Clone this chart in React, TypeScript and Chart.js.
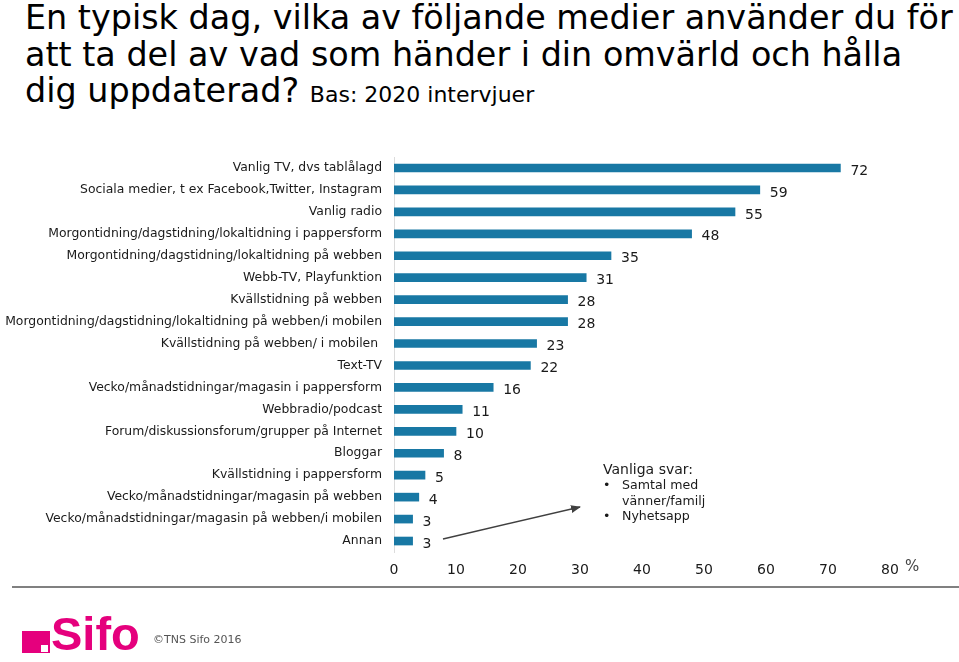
import React, { useEffect, useRef } from 'react';
import { Chart, registerables } from 'chart.js';

Chart.register(...registerables);

const categories = [
  'Vanlig TV, dvs tablålagd',
  'Sociala medier, t ex Facebook,Twitter, Instagram',
  'Vanlig radio',
  'Morgontidning/dagstidning/lokaltidning i pappersform',
  'Morgontidning/dagstidning/lokaltidning på webben',
  'Webb-TV, Playfunktion',
  'Kvällstidning på webben',
  'Morgontidning/dagstidning/lokaltidning på webben/i mobilen',
  'Kvällstidning på webben/ i mobilen ',
  'Text-TV',
  'Vecko/månadstidningar/magasin i pappersform',
  'Webbradio/podcast',
  'Forum/diskussionsforum/grupper på Internet',
  'Bloggar',
  'Kvällstidning i pappersform',
  'Vecko/månadstidningar/magasin på webben',
  'Vecko/månadstidningar/magasin på webben/i mobilen',
  'Annan',
];
const values = [72, 59, 55, 48, 35, 31, 28, 28, 23, 22, 16, 11, 10, 8, 5, 4, 3, 3];
const xTickValues = [0, 10, 20, 30, 40, 50, 60, 70, 80];
const noteTitle = 'Vanliga svar:';
const noteItems = ['Samtal med', 'vänner/familj', 'Nyhetsapp'];

const FONT = '"DejaVu Sans", Verdana, sans-serif';

const dataLabelPlugin = {
  id: 'dataLabels',
  afterDatasetsDraw(chart: any) {
    const ctx = chart.ctx;
    const meta = chart.getDatasetMeta(0);
    ctx.save();
    ctx.font = `14px ${FONT}`;
    ctx.fillStyle = '#1a1a1a';
    ctx.textAlign = 'left';
    ctx.textBaseline = 'middle';
    meta.data.forEach((el: any, i: number) => {
      ctx.fillText(String(values[i]), el.x + 10, el.y + 3);
    });
    ctx.restore();
  },
};

export default function App() {
  const canvasRef = useRef<HTMLCanvasElement | null>(null);

  useEffect(() => {
    if (!canvasRef.current) return;
    const chart = new Chart(canvasRef.current, {
      type: 'bar',
      data: {
        labels: categories,
        datasets: [
          {
            data: values,
            backgroundColor: '#1878a4',
            borderWidth: 0,
            barThickness: 8,
          },
        ],
      },
      plugins: [dataLabelPlugin],
      options: {
        indexAxis: 'y',
        animation: false,
        responsive: false,
        maintainAspectRatio: false,
        devicePixelRatio: 1,
        layout: { padding: { left: 0, right: 69, top: 157, bottom: 80 } },
        plugins: {
          legend: { display: false },
          tooltip: { enabled: false },
          title: { display: false },
        },
        scales: {
          x: {
            type: 'linear',
            min: 0,
            max: 80,
            afterBuildTicks: (scale: any) => {
              scale.ticks = xTickValues.map((v) => ({ value: v }));
            },
            afterFit: (scale: any) => {
              scale.height = 30;
            },
            grid: { display: false, drawTicks: false },
            border: { display: false },
            ticks: {
              padding: 10,
              color: '#1a1a1a',
              font: { family: FONT, size: 14 },
              maxRotation: 0,
              autoSkip: false,
            },
          },
          y: {
            type: 'category',
            afterFit: (scale: any) => {
              scale.width = 394;
            },
            grid: { display: false, drawTicks: false },
            border: { display: true, color: '#dcdcdc', width: 1 },
            ticks: {
              padding: 12,
              color: '#1a1a1a',
              font: { family: FONT, size: 12.4 },
              autoSkip: false,
            },
          },
        },
      },
    });
    return () => chart.destroy();
  }, []);

  return (
    <div
      style={{
        position: 'absolute',
        left: 0,
        top: 0,
        width: 959,
        height: 662,
        background: '#ffffff',
        overflow: 'hidden',
        fontFamily: FONT,
      }}
    >
      <div
        style={{
          position: 'absolute',
          left: 25,
          top: 0,
          width: 934,
          fontSize: 33.4,
          lineHeight: '36.5px',
          color: '#000',
          whiteSpace: 'nowrap',
        }}
      >
        En typisk dag, vilka av följande medier använder du för
        <br />
        att ta del av vad som händer i din omvärld och hålla
        <br />
        dig uppdaterad? <span style={{ fontSize: 22 }}>Bas: 2020 intervjuer</span>
      </div>

      <canvas
        ref={canvasRef}
        width={959}
        height={662}
        style={{ position: 'absolute', left: 0, top: 0, width: 959, height: 662 }}
      />

      <div
        style={{
          position: 'absolute',
          left: 905,
          top: 558,
          fontSize: 15,
          lineHeight: '16px',
          color: '#444',
        }}
      >
        %
      </div>

      <div
        style={{
          position: 'absolute',
          left: 603,
          top: 461,
          fontSize: 14,
          lineHeight: '16px',
          color: '#1a1a1a',
          whiteSpace: 'nowrap',
        }}
      >
        {noteTitle}
      </div>
      {noteItems.map((t, i) => (
        <div
          key={t}
          style={{
            position: 'absolute',
            left: 603,
            top: 477 + i * 15.5,
            fontSize: 12.6,
            lineHeight: '16px',
            color: '#1a1a1a',
            whiteSpace: 'nowrap',
          }}
        >
          <span style={{ display: 'inline-block', width: 19 }}>{i === 1 ? '' : '•'}</span>
          {t}
        </div>
      ))}

      <svg
        width={959}
        height={662}
        style={{ position: 'absolute', left: 0, top: 0, pointerEvents: 'none' }}
      >
        <defs>
          <marker id="ah" markerWidth="10" markerHeight="8" refX="9" refY="4" orient="auto" markerUnits="userSpaceOnUse">
            <path d="M0,0 L10,4 L0,8 Z" fill="#404040" />
          </marker>
        </defs>
        <line x1={443} y1={539} x2={580} y2={507} stroke="#404040" strokeWidth={1.5} markerEnd="url(#ah)" />
      </svg>

      <div
        style={{
          position: 'absolute',
          left: 12,
          top: 586,
          width: 947,
          height: 2,
          background: '#808080',
        }}
      />

      <div style={{ position: 'absolute', left: 22, top: 631, width: 28, height: 22, background: '#e5007d' }} />
      <div style={{ position: 'absolute', left: 41, top: 645, width: 7, height: 7, background: '#ffffff' }} />
      <div
        style={{
          position: 'absolute',
          left: 51,
          top: 608,
          fontFamily: '"Liberation Sans", Arial, sans-serif',
          fontWeight: 'bold',
          fontSize: 47,
          lineHeight: '52px',
          color: '#e5007d',
        }}
      >
        Sifo
      </div>
      <div
        style={{
          position: 'absolute',
          left: 153,
          top: 632,
          fontSize: 11,
          lineHeight: '16px',
          color: '#555',
          whiteSpace: 'nowrap',
        }}
      >
        ©TNS Sifo 2016
      </div>
    </div>
  );
}
